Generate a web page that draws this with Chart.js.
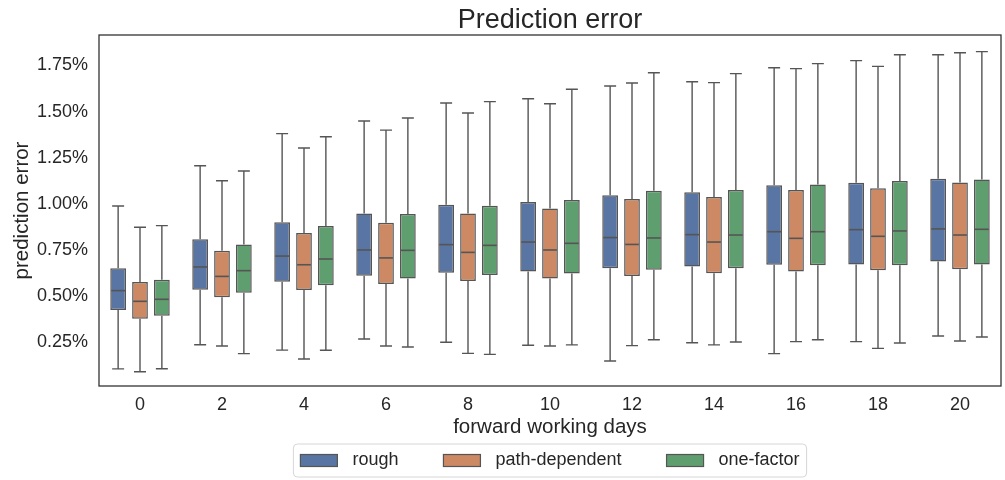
<!DOCTYPE html>
<html>
<head>
<meta charset="utf-8">
<script src="https://cdn.jsdelivr.net/npm/chart.js@4.4.1/dist/chart.umd.min.js"></script>
<style>
    html, body { margin: 0; padding: 0; background: #fff; }
</style>
</head>
<body>
<canvas id="graficoErro" width="1005" height="480"></canvas>
<script>
const days = ['0', '2', '4', '6', '8', '10', '12', '14', '16', '18', '20'];
const yTicks = [0.25, 0.5, 0.75, 1.0, 1.25, 1.5, 1.75];

// values in percent
const roughLow  = [0.107, 0.238, 0.209, 0.269, 0.251, 0.235, 0.150, 0.249, 0.190, 0.255, 0.285];
const roughQ1   = [0.426, 0.536, 0.579, 0.612, 0.628, 0.634, 0.652, 0.661, 0.671, 0.673, 0.689];
const roughMed  = [0.531, 0.659, 0.718, 0.751, 0.780, 0.794, 0.818, 0.834, 0.850, 0.861, 0.865];
const roughQ3   = [0.652, 0.809, 0.901, 0.949, 0.996, 1.011, 1.047, 1.063, 1.101, 1.115, 1.137];
const roughHigh = [0.989, 1.207, 1.381, 1.449, 1.547, 1.570, 1.639, 1.662, 1.738, 1.776, 1.808];

const pathLow  = [0.092, 0.231, 0.161, 0.231, 0.191, 0.231, 0.233, 0.237, 0.255, 0.218, 0.258];
const pathQ1   = [0.379, 0.495, 0.534, 0.567, 0.583, 0.597, 0.610, 0.625, 0.635, 0.641, 0.646];
const pathMed  = [0.473, 0.608, 0.671, 0.708, 0.738, 0.751, 0.781, 0.794, 0.814, 0.825, 0.832];
const pathQ3   = [0.578, 0.747, 0.843, 0.899, 0.948, 0.976, 1.027, 1.038, 1.076, 1.085, 1.117];
const pathHigh = [0.874, 1.126, 1.303, 1.400, 1.493, 1.543, 1.655, 1.657, 1.733, 1.745, 1.819];

const oneLow  = [0.108, 0.190, 0.208, 0.226, 0.186, 0.237, 0.265, 0.253, 0.265, 0.247, 0.280];
const oneQ1   = [0.395, 0.520, 0.560, 0.597, 0.616, 0.623, 0.644, 0.652, 0.668, 0.668, 0.673];
const oneMed  = [0.484, 0.639, 0.702, 0.749, 0.776, 0.787, 0.816, 0.832, 0.850, 0.854, 0.863];
const oneQ3   = [0.590, 0.781, 0.881, 0.946, 0.991, 1.022, 1.072, 1.076, 1.105, 1.124, 1.132];
const oneHigh = [0.883, 1.179, 1.364, 1.466, 1.554, 1.621, 1.711, 1.706, 1.760, 1.808, 1.825];

const fonte = "'Liberation Sans', Arial, sans-serif";
const corTexto = '#262626';
const corLinha = '#555555';

function boxSet(label, color, low, q1, med, q3, high) {
    return {
        label: label,
        data: q1.map((v, i) => [v, q3[i]]),
        low: low,
        med: med,
        high: high,
        backgroundColor: color,
        borderColor: corLinha,
        borderWidth: 1.5,
        borderSkipped: false
    };
}

const dataBox = {
    labels: days,
    datasets: [
        boxSet('rough', '#5975a4', roughLow, roughQ1, roughMed, roughQ3, roughHigh),
        boxSet('path-dependent', '#cc8963', pathLow, pathQ1, pathMed, pathQ3, pathHigh),
        boxSet('one-factor', '#5f9e6e', oneLow, oneQ1, oneMed, oneQ3, oneHigh)
    ]
};

// whiskers, caps and medians drawn on top of the floating bars
const whiskers = {
    id: 'whiskers',
    afterDatasetsDraw(chart) {
        const ctx = chart.ctx;
        const y = chart.scales.y;
        ctx.save();
        ctx.strokeStyle = corLinha;
        chart.data.datasets.forEach((ds, i) => {
            chart.getDatasetMeta(i).data.forEach((bar, j) => {
                const x = bar.x;
                const half = bar.width / 2;
                const cap = bar.width * 0.38;
                const pQ1 = y.getPixelForValue(ds.data[j][0]);
                const pQ3 = y.getPixelForValue(ds.data[j][1]);
                const pLo = y.getPixelForValue(ds.low[j]);
                const pHi = y.getPixelForValue(ds.high[j]);
                const pMed = y.getPixelForValue(ds.med[j]);
                ctx.lineWidth = 1.4;
                ctx.beginPath();
                ctx.moveTo(x, pQ1); ctx.lineTo(x, pLo);
                ctx.moveTo(x - cap, pLo); ctx.lineTo(x + cap, pLo);
                ctx.moveTo(x, pQ3); ctx.lineTo(x, pHi);
                ctx.moveTo(x - cap, pHi); ctx.lineTo(x + cap, pHi);
                ctx.stroke();
                ctx.lineWidth = 1.6;
                ctx.beginPath();
                ctx.moveTo(x - half + 1, pMed); ctx.lineTo(x + half - 1, pMed);
                ctx.stroke();
            });
        });
        ctx.restore();
    }
};

// axes frame, title over the plot area, framed legend under the x axis title
const moldura = {
    id: 'moldura',
    afterDraw(chart) {
        const ctx = chart.ctx;
        const a = chart.chartArea;
        const meio = (a.left + a.right) / 2;
        ctx.save();
        ctx.strokeStyle = '#333333';
        ctx.lineWidth = 1.3;
        ctx.strokeRect(a.left, a.top, a.right - a.left, a.bottom - a.top);

        ctx.fillStyle = corTexto;
        ctx.font = '27px ' + fonte;
        ctx.textAlign = 'center';
        ctx.textBaseline = 'middle';
        ctx.fillText('Prediction error', meio, 20.5);

        ctx.textAlign = 'left';
        ctx.font = '18px ' + fonte;
        const patchW = 37, patchH = 12, gap = 15, colGap = 45, pad = 7;
        const items = chart.data.datasets.map(ds => ({
            label: ds.label, color: ds.backgroundColor, w: ctx.measureText(ds.label).width
        }));
        let total = pad * 2 + colGap * (items.length - 1);
        items.forEach(it => { total += patchW + gap + it.w; });
        const left = meio - total / 2;
        const top = 444, h = 33, cy = top + h / 2;

        ctx.strokeStyle = '#d6d6d6';
        ctx.lineWidth = 1;
        ctx.beginPath();
        ctx.roundRect(left, top, total, h, 4);
        ctx.fillStyle = '#ffffff';
        ctx.fill();
        ctx.stroke();

        let x = left + pad;
        items.forEach(it => {
            ctx.fillStyle = it.color;
            ctx.fillRect(x, cy - patchH / 2, patchW, patchH);
            ctx.strokeStyle = corLinha;
            ctx.lineWidth = 1.2;
            ctx.strokeRect(x, cy - patchH / 2, patchW, patchH);
            ctx.fillStyle = corTexto;
            ctx.fillText(it.label, x + patchW + gap, cy);
            x += patchW + gap + it.w + colGap;
        });
        ctx.restore();
    }
};

const configBox = {
    type: 'bar',
    data: dataBox,
    options: {
        responsive: false,
        animation: false,
        layout: {
            padding: { left: 0, right: 4, top: 35, bottom: 40 }
        },
        datasets: {
            bar: {
                categoryPercentage: 0.8,
                barPercentage: 0.72
            }
        },
        scales: {
            x: {
                grid: { display: false, drawTicks: false },
                border: { display: false },
                ticks: {
                    color: corTexto,
                    padding: 8,
                    font: { family: fonte, size: 18 }
                },
                title: {
                    display: true,
                    text: 'forward working days',
                    color: corTexto,
                    padding: 0,
                    font: { family: fonte, size: 20.5 }
                },
                afterFit: scale => { scale.height = 54; }
            },
            y: {
                min: 0.0145,
                max: 1.915,
                grid: { display: false, drawTicks: false },
                border: { display: false },
                afterBuildTicks: scale => {
                    scale.ticks = yTicks.map(v => ({ value: v }));
                },
                ticks: {
                    color: corTexto,
                    padding: 11,
                    font: { family: fonte, size: 18 },
                    callback: v => v.toFixed(2) + '%'
                },
                title: {
                    display: true,
                    text: 'prediction error',
                    color: corTexto,
                    padding: { top: 10, bottom: 0 },
                    font: { family: fonte, size: 20.5 }
                },
                afterFit: scale => { scale.width = 99; }
            }
        },
        plugins: {
            legend: { display: false },
            tooltip: { enabled: false },
            title: { display: false }
        }
    },
    plugins: [whiskers, moldura]
};

const grafico = new Chart(document.getElementById('graficoErro'), configBox);
</script>
</body>
</html>
